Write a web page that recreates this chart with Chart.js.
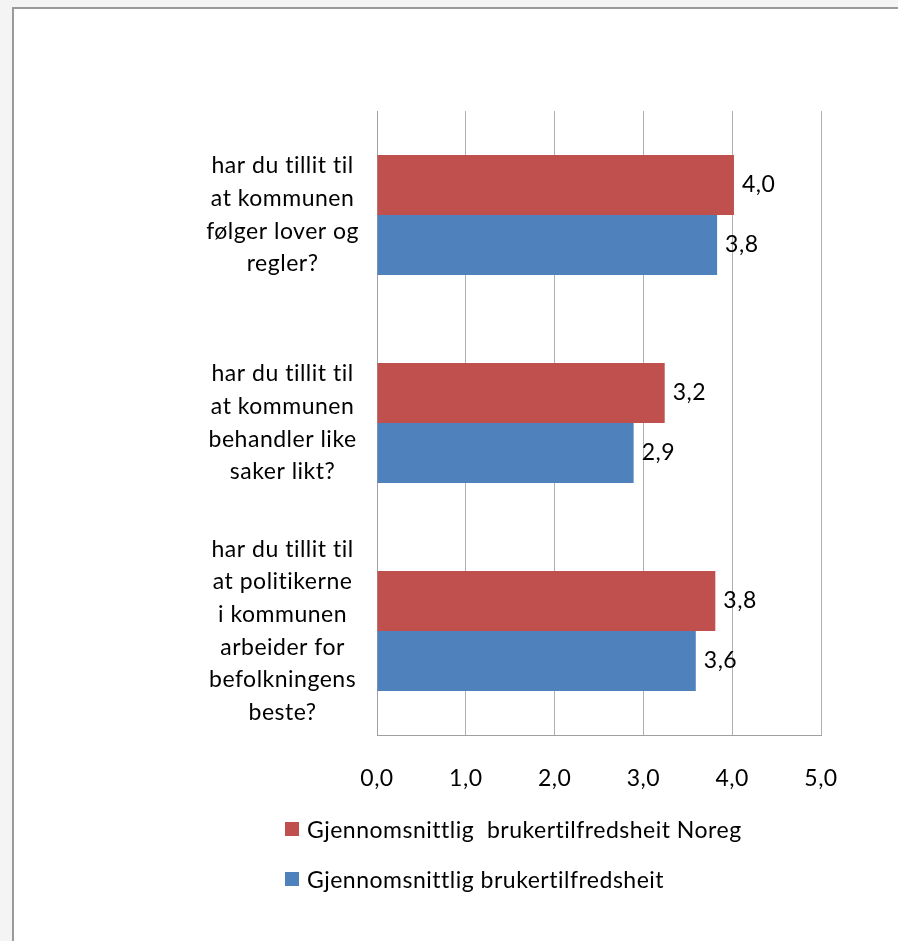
<!DOCTYPE html>
<html>
<head>
<meta charset="utf-8">
<script src="https://cdn.jsdelivr.net/npm/chart.js@4.4.1/dist/chart.umd.min.js"></script>
<style>
  html, body { margin: 0; padding: 0; }
  body { width: 898px; height: 941px; background: #f4f4f4; position: relative; overflow: hidden; font-family: Lato, sans-serif; }
  #frame { position: absolute; left: 12px; top: 7px; right: 0; bottom: 0; background: #fff; border-left: 2px solid #9a9a9a; border-top: 2px solid #9a9a9a; }
  #myChart { position: absolute; left: 0; top: 0; }
  #legend { position: absolute; left: 285px; top: 815px; }
  .item { display: flex; align-items: center; height: 28px; margin-bottom: 22px; font-size: 23px; letter-spacing: 0.5px; color: #000; white-space: pre; }
  .box { width: 14px; height: 14px; margin-right: 8px; flex: none; }
</style>
</head>
<body>
<div id="frame"></div>
<canvas id="myChart" width="898" height="941"></canvas>
<div id="legend"></div>
<script>
// kategorier (spørsmål), ei linje per rad i etiketten
const categories = [
  ["har du tillit til", "at kommunen", "følger lover og", "regler?"],
  ["har du tillit til", "at kommunen", "behandler like", "saker likt?"],
  ["har du tillit til", "at politikerne", "i kommunen", "arbeider for", "befolkningens", "beste?"]
];

const seriesNames = [
  "Gjennomsnittlig  brukertilfredsheit Noreg",
  "Gjennomsnittlig brukertilfredsheit"
];

const noreg = [4.02, 3.24, 3.81];   // raud
const kommune = [3.83, 2.89, 3.59]; // blå

const xTicks = [0, 1, 2, 3, 4, 5];

const FONT = "Lato";
const SIZE = 23;
const SPACING = "0.5px";
const fmt = v => v.toFixed(1).replace(".", ",");

// litt luft mellom bokstavane, som i originalen
const spacing = {
  id: "spacing",
  beforeUpdate(chart) { chart.ctx.letterSpacing = SPACING; },
  beforeDraw(chart) { chart.ctx.letterSpacing = SPACING; }
};

// verdi ved enden av kvar stolpe
const barLabels = {
  id: "barLabels",
  afterDatasetsDraw(chart) {
    const c = chart.ctx;
    c.save();
    c.font = SIZE + "px " + FONT;
    c.fillStyle = "#000";
    c.textAlign = "left";
    c.textBaseline = "middle";
    chart.data.datasets.forEach((ds, i) => {
      chart.getDatasetMeta(i).data.forEach((bar, j) => {
        c.fillText(fmt(ds.data[j]), bar.x + 8, bar.y);
      });
    });
    c.restore();
  }
};

const ctx = document.getElementById("myChart").getContext("2d");

const myChart = new Chart(ctx, {
  type: "bar",
  data: {
    labels: categories,
    datasets: [{
      label: seriesNames[0],
      data: noreg,
      backgroundColor: "#C0504D"
    }, {
      label: seriesNames[1],
      data: kommune,
      backgroundColor: "#4F81BD"
    }]
  },
  options: {
    responsive: false,
    animation: false,
    indexAxis: "y",
    categoryPercentage: 0.577,
    barPercentage: 1.0,
    layout: {
      padding: { top: 111, right: 77, bottom: 146, left: 0 }
    },
    plugins: {
      legend: { display: false },
      tooltip: { enabled: false }
    },
    scales: {
      x: {
        min: 0,
        max: 5,
        afterBuildTicks: (scale) => { scale.ticks = xTicks.map(v => ({ value: v })); },
        afterFit: (scale) => { scale.height = 60; },
        grid: { color: "#b0b0b0", drawTicks: false },
        border: { color: "#a0a0a0" },
        ticks: {
          padding: 30,
          color: "#000",
          font: { family: FONT, size: SIZE },
          callback: v => fmt(v)
        }
      },
      y: {
        afterFit: (scale) => {
          scale.width = 377;
          // ikkje la dei høge etikettane skyve plottet ned
          scale.paddingTop = 0;
          scale.paddingBottom = 0;
        },
        grid: { display: false, drawTicks: false },
        border: { color: "#a0a0a0" },
        ticks: {
          crossAlign: "center",
          padding: 18,
          color: "#000",
          font: { family: FONT, size: SIZE, lineHeight: "32.7px" }
        }
      }
    }
  },
  plugins: [spacing, barLabels]
});

// forklaring under diagrammet, bygd frå datasetta
const legend = document.getElementById("legend");
myChart.data.datasets.forEach(ds => {
  const row = document.createElement("div");
  row.className = "item";
  const box = document.createElement("span");
  box.className = "box";
  box.style.background = ds.backgroundColor;
  row.appendChild(box);
  row.appendChild(document.createTextNode(ds.label));
  legend.appendChild(row);
});
</script>
</body>
</html>
